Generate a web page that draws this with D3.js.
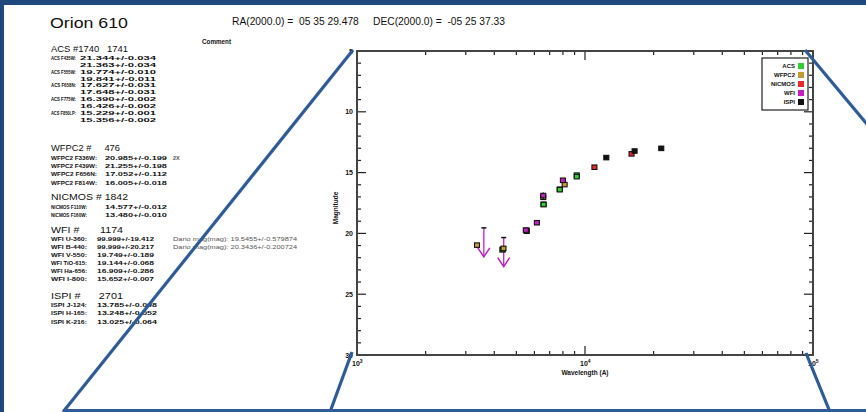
<!DOCTYPE html>
<html><head><meta charset="utf-8">
<script src="https://cdn.jsdelivr.net/npm/d3@7"></script>
<style>
html,body{margin:0;padding:0;background:#fff;}
svg{display:block;}
text{font-family:"Liberation Sans",Arial,Helvetica,sans-serif;fill:#111;white-space:pre;}
</style>
</head><body>
<svg id="c" width="866" height="412"></svg>
<script>
// ---- photometry (wavelength in Å, magnitude, 1-sigma error) ----
const instruments = ["ACS", "WFPC2", "NICMOS", "WFI", "ISPI"];
const instColors  = ["#2fcf2f", "#c49a36", "#e82a2a", "#c41fc4", "#111111"];

const acsWave = [4350, 4350, 5550, 5550, 6580, 6580, 7750, 7750, 9200, 9200];
const acsMag  = [21.344, 21.363, 19.774, 19.841, 17.627, 17.648, 16.390, 16.426, 15.229, 15.356];
const acsErr  = [0.034, 0.034, 0.010, 0.011, 0.031, 0.031, 0.002, 0.002, 0.001, 0.002];

const wfpc2Wave = [3360, 4390, 6560, 8140];
const wfpc2Mag  = [20.985, 21.255, 17.052, 16.005];
const wfpc2Err  = [0.199, 0.198, 0.112, 0.018];

const nicmosWave = [11000, 16000];
const nicmosMag  = [14.577, 13.480];
const nicmosErr  = [0.012, 0.010];

const wfiWave = [5500, 6150, 6560, 8000];
const wfiMag  = [19.749, 19.144, 16.909, 15.652];
const wfiErr  = [0.189, 0.068, 0.286, 0.007];
// U and B are upper limits (Dario magnitudes)
const wfiLimitWave = [3600, 4400];
const wfiLimitMag  = [19.5455, 20.3436];

const ispiWave = [12400, 16500, 21600];
const ispiMag  = [13.785, 13.248, 13.025];
const ispiErr  = [0.098, 0.052, 0.064];

const xTickValues = [1e3, 1e4, 1e5];
const xTickExp    = ["3", "4", "5"];
const yTickValues = [5, 10, 15, 20, 25, 30];

// ---- text of the catalogue panel ----
const acsRows = [["ACS F435W:", "21.344+/-0.034"], ["", "21.363+/-0.034"],
  ["ACS F555W:", "19.774+/-0.010"], ["", "19.841+/-0.011"],
  ["ACS F658N:", "17.627+/-0.031"], ["", "17.648+/-0.031"],
  ["ACS F775W:", "16.390+/-0.002"], ["", "16.426+/-0.002"],
  ["ACS F850LP:", "15.229+/-0.001"], ["", "15.356+/-0.002"]];
const wfpc2Rows = [["WFPC2 F336W:", "20.985+/-0.199"], ["WFPC2 F439W:", "21.255+/-0.198"],
  ["WFPC2 F656N:", "17.052+/-0.112"], ["WFPC2 F814W:", "16.005+/-0.018"]];
const nicmosRows = [["NICMOS F110W:", "14.577+/-0.012"], ["NICMOS F160W:", "13.480+/-0.010"]];
const wfiRows = [["WFI U-360:", "99.999+/-19.412"], ["WFI B-440:", "99.999+/-20.217"],
  ["WFI V-550:", "19.749+/-0.189"], ["WFI TiO-615:", "19.144+/-0.068"],
  ["WFI Ha-656:", "16.909+/-0.286"], ["WFI I-800:", "15.652+/-0.007"]];
const ispiRows = [["ISPI J-124:", "13.785+/-0.098"], ["ISPI H-165:", "13.248+/-0.052"],
  ["ISPI K-216:", "13.025+/-0.064"]];
const darioRows = ["Dario mag(mag): 19.5455+/-0.579874", "Dario mag(mag): 20.3436+/-0.200724"];

const svg = d3.select("#c");
const W = 866, H = 412;
const frameBlue = "#1f497d", calloutBlue = "#2d5c98";

// ---- plot geometry ----
const plot = {left: 357, right: 813, top: 51, bottom: 355};
const x = d3.scaleLog().domain([1e3, 1e5]).range([plot.left, plot.right]);
const y = d3.scaleLinear().domain([5, 30]).range([plot.top, plot.bottom]);

function txt(g, xx, yy, s, size, opts = {}) {
  const t = g.append("text").attr("x", xx).attr("y", yy).attr("font-size", size).text(s);
  if (opts.bold) t.attr("font-weight", "bold");
  if (opts.len) t.attr("textLength", opts.len).attr("lengthAdjust", "spacingAndGlyphs");
  if (opts.anchor) t.attr("text-anchor", opts.anchor);
  if (opts.fill) t.style("fill", opts.fill);
  return t;
}

// ---- header ----
const hdr = svg.append("g");
txt(hdr, 50, 28, "Orion 610", 15, {len: 78});
txt(hdr, 232, 25, "RA(2000.0) =  05 35 29.478     DEC(2000.0) =  -05 25 37.33", 11, {len: 273});
txt(hdr, 202, 44, "Comment", 7, {bold: true, len: 29});

// ---- catalogue panel ----
const cat = svg.append("g");
function section(y0, head, headLen, rows, rowY, rowStep, rowSize, labLen, valX, valLen) {
  txt(cat, 51, y0, head, 9.5, {len: headLen});
  rows.forEach((r, i) => {
    const yy = rowY + i * rowStep;
    if (r[0]) txt(cat, 51, yy, r[0], rowSize, {bold: true, len: labLen});
    txt(cat, valX, yy, r[1], rowSize, {bold: true, len: valLen});
  });
}
section(52, "ACS #1740   1741", 77, acsRows, 60, 6.85, 5, 25, 80, 76);
section(151, "WFPC2 #     476", 69, wfpc2Rows, 160, 8.2, 5.5, 46, 105, 62);
section(200, "NICMOS # 1842", 77, nicmosRows, 209, 8, 5.5, 36, 105, 62);
section(233, "WFI #       1174", 72, wfiRows, 241, 8, 5.5, 36, 97, 57);
section(299, "ISPI #      2701", 72, ispiRows, 307, 8.3, 5.5, 36, 97, 60);
txt(cat, 173, 160, "2X", 5.5, {bold: true, fill: "#555"});
darioRows.forEach((s, i) => txt(cat, 173, 241 + i * 8, s, 5.5, {len: 124, fill: "#555"}));

// ---- axes ----
const ax = svg.append("g");
const majorLen = 9, minorLen = 4;
const xMinor = [];
[1e3, 1e4].forEach(d => { for (let k = 2; k <= 9; k++) xMinor.push(d * k); });
const yMinor = d3.range(6, 30).filter(v => v % 5 !== 0);

function tick(x1, y1, x2, y2) {
  ax.append("line").attr("x1", x1).attr("y1", y1).attr("x2", x2).attr("y2", y2)
    .attr("stroke", "#222").attr("stroke-width", 1.2);
}
xTickValues.forEach(v => { tick(x(v), plot.bottom, x(v), plot.bottom - majorLen); tick(x(v), plot.top, x(v), plot.top + majorLen); });
xMinor.forEach(v => { tick(x(v), plot.bottom, x(v), plot.bottom - minorLen); tick(x(v), plot.top, x(v), plot.top + minorLen); });
yTickValues.forEach(v => { tick(plot.left, y(v), plot.left + majorLen, y(v)); tick(plot.right, y(v), plot.right - majorLen, y(v)); });
yMinor.forEach(v => { tick(plot.left, y(v), plot.left + minorLen, y(v)); tick(plot.right, y(v), plot.right - minorLen, y(v)); });

ax.append("rect").attr("x", plot.left).attr("y", plot.top)
  .attr("width", plot.right - plot.left).attr("height", plot.bottom - plot.top)
  .attr("fill", "none").attr("stroke", "#444").attr("stroke-width", 2);

yTickValues.forEach(v => {
  txt(ax, plot.left - 4, y(v) + 2.5, String(v), 7, {bold: true, anchor: "end"});
});
xTickValues.forEach((v, i) => {
  const t = ax.append("text").attr("x", x(v) - 5).attr("y", plot.bottom + 11)
    .attr("font-size", 7).attr("font-weight", "bold").text("10");
  t.append("tspan").attr("dy", -3).attr("font-size", 5).text(xTickExp[i]);
});
ax.append("text").attr("transform", `translate(${plot.left - 19},${(plot.top + plot.bottom) / 2 + 5}) rotate(-90)`)
  .attr("text-anchor", "middle").attr("font-size", 6.5).attr("font-weight", "bold").text("Magnitude");
txt(ax, x(1e4), plot.bottom + 20, "Wavelength (A)", 6.5, {bold: true, anchor: "middle"});

// ---- data ----
const series = [
  {wave: acsWave, mag: acsMag, err: acsErr},
  {wave: wfpc2Wave, mag: wfpc2Mag, err: wfpc2Err},
  {wave: nicmosWave, mag: nicmosMag, err: nicmosErr},
  {wave: wfiWave, mag: wfiMag, err: wfiErr},
  {wave: ispiWave, mag: ispiMag, err: ispiErr}
];
const pts = svg.append("g");
const sz = 5;

// upper-limit arrows
const arrowLen = 29;
wfiLimitWave.forEach((w, i) => {
  const cx = x(w), cy = y(wfiLimitMag[i]);
  pts.append("line").attr("x1", cx).attr("y1", cy).attr("x2", cx).attr("y2", cy + arrowLen)
    .attr("stroke", instColors[3]).attr("stroke-width", 1.3);
  pts.append("path").attr("d", `M${cx - 6},${cy + arrowLen - 9} L${cx},${cy + arrowLen} L${cx + 6},${cy + arrowLen - 9}`)
    .attr("fill", "none").attr("stroke", instColors[3]).attr("stroke-width", 1.5);
  pts.append("line").attr("x1", cx - 2.5).attr("x2", cx + 2.5).attr("y1", cy).attr("y2", cy)
    .attr("stroke", "#111").attr("stroke-width", 1.5);
});

series.forEach((s, k) => {
  s.wave.forEach((w, i) => {
    const cx = x(w), cy = y(s.mag[i]);
    pts.append("line").attr("x1", cx).attr("x2", cx)
      .attr("y1", y(s.mag[i] - s.err[i])).attr("y2", y(s.mag[i] + s.err[i]))
      .attr("stroke", "#111").attr("stroke-width", 1);
    pts.append("rect").attr("x", cx - sz / 2).attr("y", cy - sz / 2)
      .attr("width", sz).attr("height", sz - 0.5)
      .attr("fill", instColors[k]).attr("stroke", "#111").attr("stroke-width", 1.1);
  });
});

// ---- legend ----
const lg = svg.append("g");
const lgBox = {x: 762, y: 58, w: 46, h: 52};
lg.append("rect").attr("x", lgBox.x).attr("y", lgBox.y).attr("width", lgBox.w).attr("height", lgBox.h)
  .attr("fill", "#fff").attr("stroke", "#222").attr("stroke-width", 1.2);
instruments.forEach((name, i) => {
  const yy = lgBox.y + 8 + i * 9;
  txt(lg, lgBox.x + 33, yy + 2.3, name, 6, {bold: true, anchor: "end"});
  lg.append("rect").attr("x", lgBox.x + 36).attr("y", yy - 3).attr("width", 6).attr("height", 6)
    .attr("fill", instColors[i]);
});

// ---- frame and zoom callout lines ----
const deco = svg.append("g");
deco.append("rect").attr("x", 0).attr("y", 0).attr("width", W).attr("height", 5).attr("fill", frameBlue);
deco.append("rect").attr("x", 0).attr("y", 0).attr("width", 4).attr("height", H).attr("fill", frameBlue);
const callouts = [
  [[plot.left - 4, plot.top - 1], [63, H]],
  [[plot.left - 5, plot.bottom - 3], [330, H]],
  [[plot.right - 7, plot.bottom - 2], [830, H]],
  [[plot.right - 8, plot.top - 1], [W + 10, 135]]
];
callouts.forEach(c => deco.append("line")
  .attr("x1", c[0][0]).attr("y1", c[0][1]).attr("x2", c[1][0]).attr("y2", c[1][1])
  .attr("stroke", calloutBlue).attr("stroke-width", 3.2));
deco.append("line").attr("x1", 63).attr("x2", W).attr("y1", H - 1.5).attr("y2", H - 1.5)
  .attr("stroke", calloutBlue).attr("stroke-width", 3);
</script>
</body></html>
